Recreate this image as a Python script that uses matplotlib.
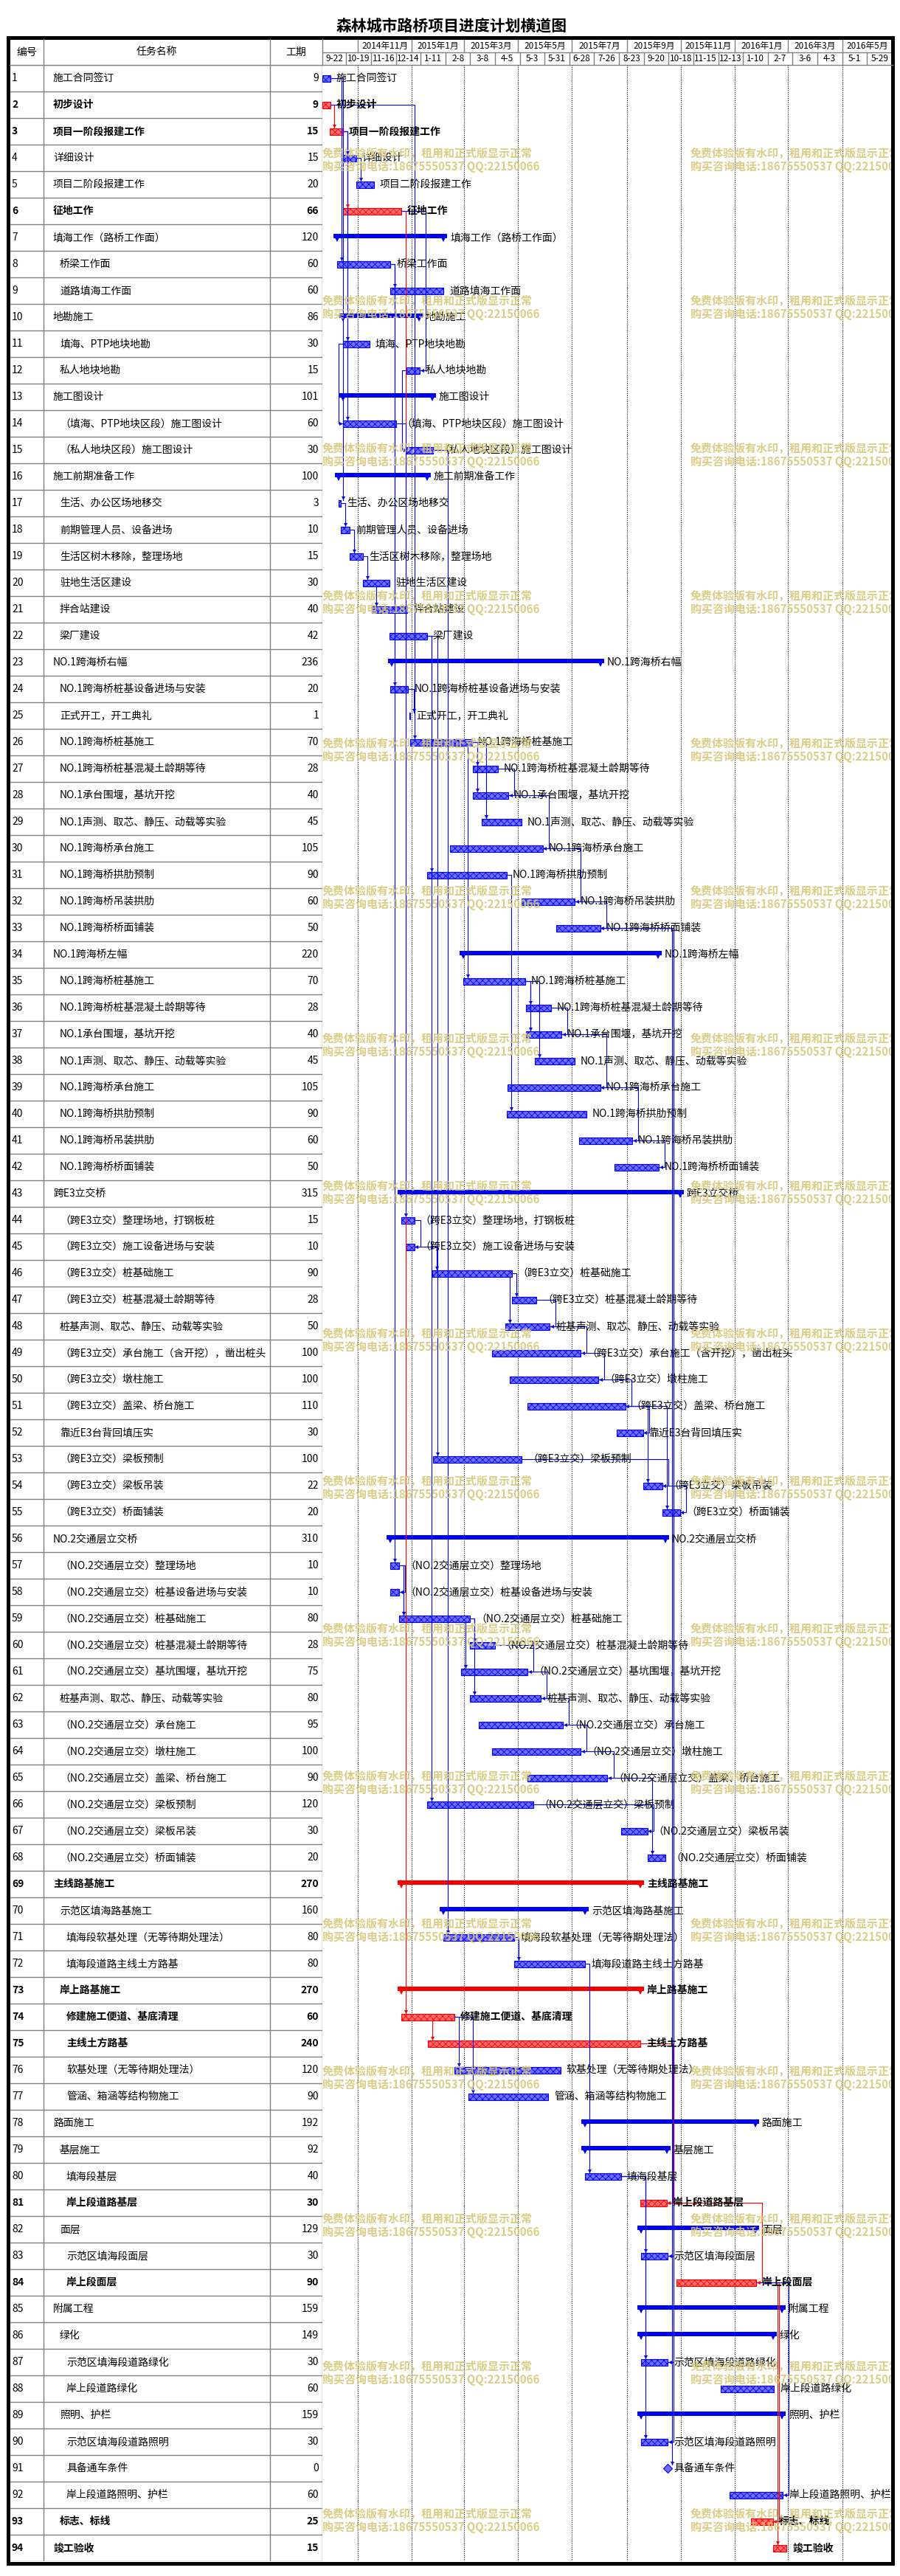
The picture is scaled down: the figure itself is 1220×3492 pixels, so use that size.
import numpy as np
import matplotlib
matplotlib.use("Agg")
import matplotlib.pyplot as plt
import matplotlib.dates as mdates
from matplotlib.patches import Rectangle
from matplotlib.transforms import blended_transform_factory
from datetime import datetime

plt.rcParams["font.family"] = ["Noto Sans CJK SC", "DejaVu Sans"]
plt.rcParams["hatch.linewidth"] = 0.6

title = "森林城市路桥项目进度计划横道图"

task_names = [
    "施工合同签订", "初步设计", "项目一阶段报建工作", "详细设计", "项目二阶段报建工作",
    "征地工作", "填海工作（路桥工作面）", "桥梁工作面", "道路填海工作面", "地勘施工",
    "填海、PTP地块地勘", "私人地块地勘", "施工图设计", "（填海、PTP地块区段）施工图设计",
    "（私人地块区段）施工图设计", "施工前期准备工作", "生活、办公区场地移交",
    "前期管理人员、设备进场", "生活区树木移除，整理场地", "驻地生活区建设",
    "拌合站建设", "梁厂建设", "NO.1跨海桥右幅", "NO.1跨海桥桩基设备进场与安装",
    "正式开工，开工典礼", "NO.1跨海桥桩基施工", "NO.1跨海桥桩基混凝土龄期等待",
    "NO.1承台围堰，基坑开挖", "NO.1声测、取芯、静压、动载等实验", "NO.1跨海桥承台施工",
    "NO.1跨海桥拱肋预制", "NO.1跨海桥吊装拱肋", "NO.1跨海桥桥面铺装", "NO.1跨海桥左幅",
    "NO.1跨海桥桩基施工", "NO.1跨海桥桩基混凝土龄期等待", "NO.1承台围堰，基坑开挖",
    "NO.1声测、取芯、静压、动载等实验", "NO.1跨海桥承台施工", "NO.1跨海桥拱肋预制",
    "NO.1跨海桥吊装拱肋", "NO.1跨海桥桥面铺装", "跨E3立交桥",
    "（跨E3立交）整理场地，打钢板桩", "（跨E3立交）施工设备进场与安装",
    "（跨E3立交）桩基础施工", "（跨E3立交）桩基混凝土龄期等待",
    "桩基声测、取芯、静压、动载等实验", "（跨E3立交）承台施工（含开挖），凿出桩头",
    "（跨E3立交）墩柱施工", "（跨E3立交）盖梁、桥台施工", "靠近E3台背回填压实",
    "（跨E3立交）梁板预制", "（跨E3立交）梁板吊装", "（跨E3立交）桥面铺装",
    "NO.2交通层立交桥", "（NO.2交通层立交）整理场地", "（NO.2交通层立交）桩基设备进场与安装",
    "（NO.2交通层立交）桩基础施工", "（NO.2交通层立交）桩基混凝土龄期等待",
    "（NO.2交通层立交）基坑围堰，基坑开挖", "桩基声测、取芯、静压、动载等实验",
    "（NO.2交通层立交）承台施工", "（NO.2交通层立交）墩柱施工",
    "（NO.2交通层立交）盖梁、桥台施工", "（NO.2交通层立交）梁板预制",
    "（NO.2交通层立交）梁板吊装", "（NO.2交通层立交）桥面铺装",
    "主线路基施工", "示范区填海路基施工", "填海段软基处理（无等待期处理法）",
    "填海段道路主线土方路基", "岸上路基施工", "修建施工便道、基底清理", "主线土方路基",
    "软基处理（无等待期处理法）", "管涵、箱涵等结构物施工", "路面施工", "基层施工",
    "填海段基层", "岸上段道路基层", "面层", "示范区填海段面层", "岸上段面层",
    "附属工程", "绿化", "示范区填海段道路绿化", "岸上段道路绿化", "照明、护栏",
    "示范区填海段道路照明", "具备通车条件", "岸上段道路照明、护栏", "标志、标线", "竣工验收",
]

durations = [
    9, 9, 15, 15, 20, 66, 120, 60, 60, 86,
    30, 15, 101, 60, 30, 100, 3, 10, 15, 30,
    40, 42, 236, 20, 1, 70, 28, 40, 45, 105,
    90, 60, 50, 220, 70, 28, 40, 45, 105, 90,
    60, 50, 315, 15, 10, 90, 28, 50, 100, 100,
    110, 30, 100, 22, 20, 310, 10, 10, 80, 28,
    75, 80, 95, 100, 90, 120, 30, 20, 270, 160,
    80, 80, 270, 60, 240, 120, 90, 192, 92, 40,
    30, 129, 30, 90, 159, 149, 30, 60, 159, 30,
    0, 60, 25, 15,
]

start_dates = [
    "2014-09-22", "2014-09-22", "2014-09-30", "2014-10-15", "2014-10-30",
    "2014-10-15", "2014-10-09", "2014-10-09", "2014-12-08", "2014-10-15",
    "2014-10-15", "2014-12-26", "2014-10-15", "2014-10-15", "2014-12-26",
    "2014-10-10", "2014-10-10", "2014-10-13", "2014-10-23", "2014-11-07",
    "2014-11-17", "2014-12-07", "2014-12-09", "2014-12-08", "2014-12-29",
    "2014-12-30", "2015-03-11", "2015-03-11", "2015-03-21", "2015-02-13",
    "2015-01-18", "2015-05-05", "2015-06-13", "2015-02-28", "2015-02-28",
    "2015-05-10", "2015-05-10", "2015-05-20", "2015-04-19", "2015-04-18",
    "2015-07-09", "2015-08-18", "2014-12-20", "2014-12-20", "2014-12-25",
    "2015-01-24", "2015-04-24", "2015-04-17", "2015-04-02", "2015-04-22",
    "2015-05-12", "2015-08-20", "2015-01-25", "2015-09-19", "2015-10-11",
    "2014-12-08", "2014-12-08", "2014-12-08", "2014-12-18", "2015-03-08",
    "2015-02-26", "2015-03-08", "2015-03-18", "2015-04-02", "2015-05-12",
    "2015-01-18", "2015-08-25", "2015-09-24", "2014-12-20", "2015-02-06",
    "2015-02-06", "2015-04-27", "2014-12-20", "2014-12-20", "2015-01-19",
    "2015-02-18", "2015-03-06", "2015-07-16", "2015-07-16", "2015-07-16",
    "2015-09-16", "2015-09-17", "2015-09-17", "2015-10-27", "2015-09-17",
    "2015-09-17", "2015-09-17", "2015-12-16", "2015-09-17", "2015-09-17",
    "2015-10-17", "2015-12-26", "2016-01-19", "2016-02-13",
]

indent = [
    0, 0, 0, 0, 0, 0, 0, 1, 1, 0,
    1, 1, 0, 1, 1, 0, 1, 1, 1, 1,
    1, 1, 0, 1, 1, 1, 1, 1, 1, 1,
    1, 1, 1, 0, 1, 1, 1, 1, 1, 1,
    1, 1, 0, 1, 1, 1, 1, 1, 1, 1,
    1, 1, 1, 1, 1, 0, 1, 1, 1, 1,
    1, 1, 1, 1, 1, 1, 1, 1, 0, 1,
    2, 2, 1, 2, 2, 2, 2, 0, 1, 2,
    2, 1, 2, 2, 0, 1, 2, 2, 1, 2,
    2, 2, 1, 0,
]

critical_rows = [2, 3, 6, 69, 73, 74, 75, 81, 84, 93, 94]
summary_rows = [7, 10, 13, 16, 23, 34, 43, 56, 69, 70, 73, 78, 79, 82, 85, 86, 89]
milestone_rows = [91]

# timescale header
col_dates = [
    "2014-09-22", "2014-10-19", "2014-11-16", "2014-12-14", "2015-01-11", "2015-02-08",
    "2015-03-08", "2015-04-05", "2015-05-03", "2015-05-31", "2015-06-28", "2015-07-26",
    "2015-08-23", "2015-09-20", "2015-10-18", "2015-11-15", "2015-12-13", "2016-01-10",
    "2016-02-07", "2016-03-06", "2016-04-03", "2016-05-01", "2016-05-29",
]
month_dates = [
    "2014-11-01", "2015-01-01", "2015-03-01", "2015-05-01", "2015-07-01",
    "2015-09-01", "2015-11-01", "2016-01-01", "2016-03-01", "2016-05-01",
]

# links: (predecessor, successor)
fs_links_red = [(2, 3), (3, 6), (6, 74), (74, 75), (84, 94)]
ff_links_red = [(75, 81), (81, 84), (84, 93)]
fs_links = [
    (1, 17), (1, 8), (3, 4), (3, 11), (3, 14), (4, 5), (8, 9), (8, 24), (8, 57),
    (17, 18), (18, 19), (19, 20), (20, 21), (22, 31), (22, 53), (22, 66), (15, 71),
    (2, 26), (14, 44), (24, 25), (26, 27), (26, 28), (26, 29), (26, 35), (31, 40),
    (35, 36), (35, 37), (35, 38), (45, 46), (46, 47), (46, 48), (51, 54), (51, 55),
    (57, 59), (58, 59), (59, 60), (59, 61), (59, 62), (65, 68), (71, 72), (72, 80),
    (74, 76), (74, 77), (80, 83), (80, 87), (80, 90), (33, 91),
]
ff_links = [
    (6, 12), (27, 28), (28, 30), (30, 32), (32, 33), (36, 37), (37, 39), (39, 41),
    (41, 42), (44, 45), (47, 48), (48, 49), (49, 50), (50, 51), (51, 52), (53, 54),
    (54, 55), (57, 58), (60, 61), (61, 62), (62, 63), (63, 64), (64, 65), (66, 67),
    (33, 83), (33, 87), (33, 90), (84, 92),
]
ss_links = [(11, 14), (12, 15)]

wm_line1 = "免费体验版有水印，租用和正式版显示正常"
wm_line2 = "购买咨询电话:18675550537 QQ:22150066"

BLUE = "#0000ff"
RED = "#ff0000"
GRID = "#808080"

W, H = 1220, 3492
fig = plt.figure(figsize=(W / 100, H / 100), dpi=100)


def box(x0, y0, x1, y1):
    return [x0 / W, 1 - y1 / H, (x1 - x0) / W, (y1 - y0) / H]


GX0, GX1 = 437, 1210
RY0, RY1 = 88, 3472
HY0 = 53
n = len(task_names)

d_from = mdates.date2num(datetime(2014, 9, 22))
d_to = mdates.date2num(datetime(2016, 6, 27))
DPX = (d_to - d_from) / (GX1 - GX0)
RPX = n / (RY1 - RY0)
PT = 0.72  # points per pixel

to_num = lambda s: mdates.date2num(datetime.strptime(s, "%Y-%m-%d"))
starts = np.array([to_num(s) for s in start_dates])
ends = starts + np.array(durations)

ax_t = fig.add_axes(box(0, RY0, GX0, RY1))
ax_t.set_xlim(0, GX0)
ax_t.set_ylim(n + 0.5, 0.5)
ax_t.axis("off")

ax_g = fig.add_axes(box(GX0, RY0, GX1, RY1))
ax_g.set_xlim(d_from, d_to)
ax_g.set_ylim(n + 0.5, 0.5)
ax_g.axis("off")

ax_h = fig.add_axes(box(GX0, HY0, GX1, RY0))
ax_h.set_xlim(d_from, d_to)
ax_h.set_ylim(2, 0)
ax_h.axis("off")

ax_o = fig.add_axes([0, 0, 1, 1])
ax_o.set_xlim(0, W)
ax_o.set_ylim(H, 0)
ax_o.axis("off")
ax_o.set_zorder(10)

# ---- table ----
for r in range(n + 1):
    ax_t.plot([13, GX0], [r + 0.5, r + 0.5], color=GRID, lw=1.0)
for x in (59, 366, GX0 - 0.5):
    ax_t.plot([x, x], [0.5, n + 0.5], color=GRID, lw=1.0)

for i, name in enumerate(task_names):
    r = i + 1
    w = "bold" if r in critical_rows else "normal"
    ax_t.text(16, r, str(r), va="center", ha="left", fontsize=10, fontweight=w)
    ax_t.text(72 + 9 * indent[i], r, name, va="center", ha="left", fontsize=10, fontweight=w)
    ax_t.text(432, r, str(durations[i]), va="center", ha="right", fontsize=10, fontweight=w)

# table header
for x in (59, 366, GX0):
    ax_o.plot([x, x], [HY0, RY0], color=GRID, lw=1.0)
ax_o.plot([13, GX1], [RY0, RY0], color=GRID, lw=1.0)
ax_o.text(36, 71, "编号", ha="center", va="center", fontsize=10)
ax_o.text(212, 71, "任务名称", ha="center", va="center", fontsize=10)
ax_o.text(401, 71, "工期", ha="center", va="center", fontsize=10)

# ---- timescale header ----
ax_h.plot([d_from, d_to], [1, 1], color=GRID, lw=1.0)
mnums = [to_num(m) for m in month_dates]
for k, m in enumerate(mnums):
    ax_h.plot([m, m], [0, 1], color=GRID, lw=1.0)
    nxt = mnums[k + 1] if k + 1 < len(mnums) else d_to
    dt = mdates.num2date(m)
    ax_h.text((m + min(nxt, d_to)) / 2, 0.52, f"{dt.year}年{dt.month}月",
              ha="center", va="center", fontsize=8.5)
cnums = [to_num(c) for c in col_dates]
for k, c in enumerate(cnums):
    if k > 0:
        ax_h.plot([c, c], [1, 2], color=GRID, lw=1.0)
    nxt = cnums[k + 1] if k + 1 < len(cnums) else d_to
    dt = mdates.num2date(c)
    ax_h.text((c + nxt) / 2, 1.52, f"{dt.month}-{dt.day}", ha="center", va="center", fontsize=8.5)

# ---- gantt ----
for m in mnums:
    ax_g.plot([m, m], [0.5, n + 0.5], color="black", lw=0.8, ls=(0, (1, 1.5)), zorder=1)

for i, name in enumerate(task_names):
    r = i + 1
    crit = r in critical_rows
    c = RED if crit else BLUE
    light = "#ff7070" if crit else "#7070ff"
    s, e = starts[i], ends[i]
    w = "bold" if crit else "normal"
    if r in summary_rows:
        ax_g.barh(r - 2 * RPX, e - s + 10 * DPX, left=s - 5 * DPX, height=6 * RPX,
                  color=c, lw=0, zorder=2)
        ax_g.plot([s, e], [r + 0.5 * RPX] * 2, ls="none", marker="v", ms=10 * PT,
                  color=c, mew=0, zorder=2)
        lx, gap = e + 5 * DPX, 4
    elif r in milestone_rows:
        ax_g.plot(s, r, marker="D", ms=8 * PT, mfc=light, mec=c, mew=0.8, zorder=2)
        lx, gap = s + 5 * DPX, 3
    else:
        ax_g.barh(r, e - s, left=s, height=9 * RPX, facecolor=light, edgecolor=c,
                  hatch="xxxx", lw=0.8, zorder=2)
        lx, gap = e, 8
    ax_g.annotate(name, xy=(lx, r), xytext=(gap * PT, 0), textcoords="offset points",
                  va="center", ha="left", fontsize=10, fontweight=w, clip_on=True,
                  zorder=4)


def arrow(x, y, mk, c):
    ax_g.plot(x, y, marker=mk, ms=5 * PT, color=c, mew=0, zorder=3.5)


def draw_fs(p, s, c, z):
    pe, ss = ends[p - 1], starts[s - 1]
    xv = ss + 6 * DPX
    half = 5 if s in milestone_rows else 4.5
    ytop = s - half * RPX
    if xv > pe:
        xs, ys = [pe, xv, xv], [p, p, ytop]
    else:
        xs, ys = [xv, xv], [p + 4.5 * RPX, ytop]
    ax_g.plot(xs, ys, color=c, lw=0.8, zorder=z)
    arrow(xv, ytop - 2.5 * RPX, "v", c)


def draw_ff(p, s, c, z):
    pe, se = ends[p - 1], ends[s - 1]
    xv = max(pe, se) + 8 * DPX
    ax_g.plot([pe, xv, xv, se], [p, p, s, s], color=c, lw=0.8, zorder=z)
    arrow(se + 2.5 * DPX, s, "<", c)


def draw_ss(p, s, c, z):
    ps, ss = starts[p - 1], starts[s - 1]
    xv = min(ps, ss) - 6 * DPX
    ax_g.plot([ps, xv, xv, ss], [p, p, s, s], color=c, lw=0.8, zorder=z)
    arrow(ss - 2.5 * DPX, s, ">", c)


for p, s in fs_links_red:
    draw_fs(p, s, RED, 2.8)
for p, s in ff_links_red:
    draw_ff(p, s, RED, 2.8)
for p, s in fs_links:
    draw_fs(p, s, BLUE, 3)
for p, s in ff_links:
    draw_ff(p, s, BLUE, 3)
for p, s in ss_links:
    draw_ss(p, s, BLUE, 3)

# watermark of the trial version
wm_tr = blended_transform_factory(ax_g.transAxes, ax_o.transData)
for k in range(17):
    y = 208 + 200 * k
    for xf in (0.0, (936 - GX0) / (GX1 - GX0)):
        for dy, txt in ((0, wm_line1), (17.5, wm_line2)):
            ax_g.text(xf, y + dy, txt, transform=wm_tr, fontsize=10.8, fontweight="bold",
                      color="#d6c878", alpha=0.9, va="center", ha="left", clip_on=True,
                      zorder=6)

# title and frame
ax_o.text(612, 35, title, ha="center", va="center", fontsize=15, fontweight="bold")
ax_o.add_patch(Rectangle((10.5, 50.5), 1199.5, 3424, fill=False, lw=5 * PT, ec="black"))

fig.savefig("out.png", dpi=100)
